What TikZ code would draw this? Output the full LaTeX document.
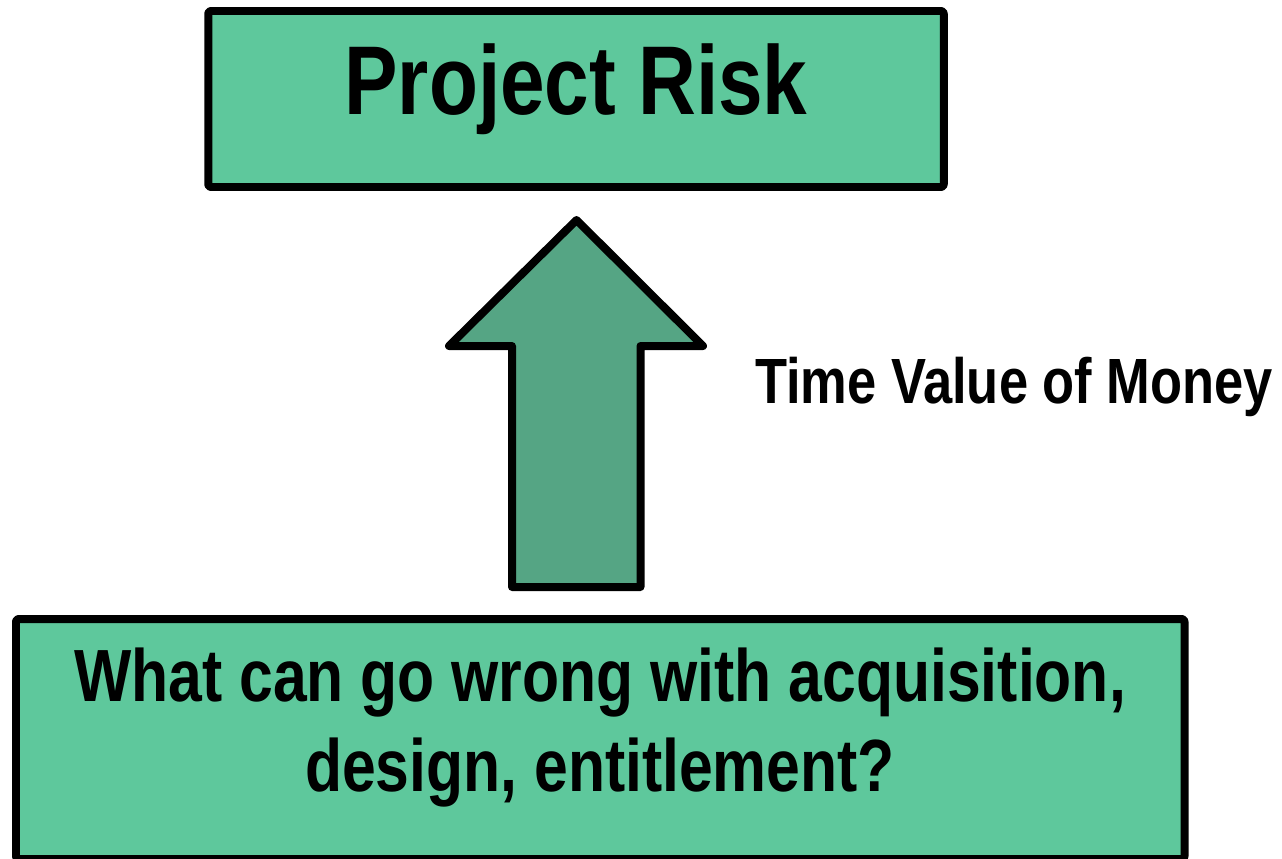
\documentclass[tikz,border=0pt]{standalone}
\usepackage{fontspec}
\setmainfont{Liberation Sans}[FakeStretch=0.82]

\definecolor{boxgreen}{RGB}{94,200,156}
\definecolor{arrowgreen}{RGB}{85,165,132}

\tikzset{
    greenbox/.style={draw=black, fill=boxgreen, line width=4.55pt, rounded corners=1.5pt, inner sep=0pt},
    boldtext/.style={font=\bfseries, inner sep=0pt}
}

\begin{document}
\begin{tikzpicture}[line join=round]

        \useasboundingbox (0, 0) rectangle (25.64, 17.16);

        % 1. Blocco superiore
        \node[greenbox, minimum width=14.71cm, minimum height=3.52cm] (riskbox) at (11.52, 15.18) {};
        \node[boldtext, anchor=base, font=\bfseries\fontsize{55.6}{60}\selectfont] (risktext) at (11.52, 14.86) {Project Risk};

        % 2. Blocco inferiore (esce dal bordo in basso)
        \node[greenbox, minimum width=23.37cm, minimum height=4.8cm] (wrongbox) at (12.005, 2.38) {};
        \node[boldtext, align=center, font=\bfseries\fontsize{42.1}{51.2}\selectfont] (wrongtext) at (12.0, 2.60)
            {What can go wrong with acquisition,\\design, entitlement?};

        % 3. Freccia grossa verso l'alto
        \draw[line width=4.55pt, fill=arrowgreen] (11.53, 12.76) -- (14.06, 10.24) -- (12.81, 10.24) -- (12.81, 5.42)
            -- (10.24, 5.42) -- (10.24, 10.24) -- (8.98, 10.24) -- cycle;

        % 4. Testo a destra della freccia
        \node[boldtext, anchor=base, font=\bfseries\fontsize{36.4}{40}\selectfont] (tvmtext) at (20.28, 9.10) {Time Value of Money};

    \end{tikzpicture}
\end{document}
